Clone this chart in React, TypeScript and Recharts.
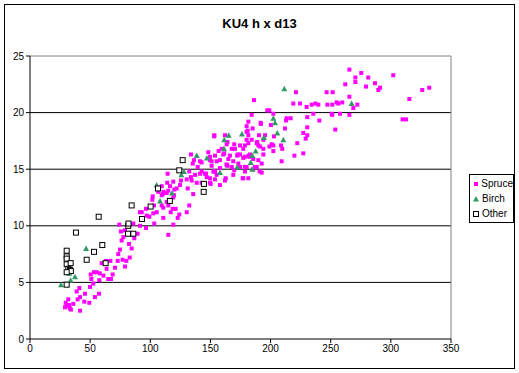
import { ScatterChart, Scatter, XAxis, YAxis, CartesianGrid, ReferenceLine, Legend } from 'recharts';

// d13 (x) vs height h (y)
const spruce: [number, number][] = [
  [29.1, 2.8], [29.7, 3.2], [31.8, 3.5], [33.2, 2.7], [36, 3.1], [30.5, 2.9], [32.5, 3.0], [34, 2.6],
  [39.6, 3.5], [38.8, 4.2], [41, 4.5], [41.6, 2.5], [41.6, 3.7], [45.7, 4.0], [45.1, 3.3], [49.3, 3.2],
  [49.9, 4.6], [52.6, 4.9], [54, 3.7], [57.4, 4.0], [50.5, 5.7], [53.2, 5.9], [55.4, 5.9], [57.6, 5.2],
  [51, 5.3], [59.6, 6.7], [63.2, 6.9], [63.7, 6.2], [66.8, 6.9], [68.7, 5.7], [67.3, 5.3], [70.7, 6.3],
  [72.9, 6.9], [77, 7.0], [79, 6.4], [80.1, 6.9], [74.8, 7.9], [73.4, 7.5], [76.2, 8.7], [82.9, 7.2],
  [82.3, 8.4], [84.5, 8.0], [75.6, 9.5], [77.6, 9.0], [79, 9.6], [85, 9.2], [85.9, 10.2], [74.2, 10.1],
  [86.7, 8.9], [89.5, 9.3], [61, 5.6], [65, 5.3], [58, 5.8],
  [91.4, 10.0], [91.4, 11.2], [97, 10.9], [99.2, 10.8], [96.4, 11.5], [102, 12.6], [103.1, 11.8], [103.3, 10.2],
  [105.3, 11.2], [110.3, 12.8], [109.5, 11.8], [110.8, 10.7], [113.6, 12.1], [115, 9.2], [117, 11.2], [118.6, 11.5],
  [119.1, 10.1], [121.1, 11.5], [122.8, 10.7], [124.1, 11.0], [132.4, 11.8], [130.3, 11.2], [135.7, 12.8], [119.7, 12.7],
  [106.6, 13.0], [96.4, 9.8], [92.9, 11.2], [102.5, 11.1], [101.7, 12.3], [109.5, 12.7], [110.8, 11.6], [115, 11.8],
  [114.4, 14.6], [109.5, 13.5], [115, 13.1], [116.4, 13.5], [119.1, 13.9], [121.9, 13.3], [113.6, 12.9], [125.5, 14.0],
  [130.3, 14.1], [131.1, 13.3], [134.4, 14.0], [133.8, 14.3], [137.2, 14.5], [135.3, 15.5], [136.3, 15.8], [139.4, 15.2],
  [141.3, 14.6], [142.7, 13.8], [146.9, 14.3], [149.6, 14.2], [150.2, 13.7], [155.2, 14.5], [157.9, 13.6], [141.3, 15.7],
  [142.7, 14.8], [146.3, 14.6], [153.2, 14.8], [151, 15.7], [155.2, 15.7], [157.9, 15.8], [163.5, 15.4], [162.7, 14.2],
  [157.9, 15.1], [132.4, 14.8], [148.2, 16.5], [153.2, 18.0], [156.8, 16.6], [159.4, 16.8], [161.5, 16.4], [164.9, 15.9],
  [164.1, 17.4], [133.8, 16.3], [124.7, 13.6], [114.1, 13.8], [110.8, 13.0], [120, 13.2], [119.1, 12.5], [153.8, 16.2],
  [149.6, 16.1], [162.1, 14.0], [153.8, 14.1], [149.6, 13.8], [138.6, 13.8], [145.5, 14.6], [152.4, 14.8], [142.7, 15.6],
  [160.7, 16.3], [166.2, 16.2], [170.4, 16.8], [174.6, 16.3], [178.7, 16.1], [167.7, 15.2], [164.1, 15.3], [169, 14.5],
  [174.6, 15.2], [178.7, 15.2], [177.3, 14.2], [181.5, 14.2], [169, 15.7], [173.2, 15.5], [180.1, 15.2], [188.5, 15.2],
  [190.9, 14.8], [185.6, 15.0], [176.8, 14.2],
  [186.2, 21.1], [184.3, 19.8], [181.5, 19.2], [180.1, 18.8], [185.1, 18.6], [180.1, 18.3], [181.5, 18.0], [180.1, 17.6],
  [169.8, 17.2], [174.6, 17.1], [178.7, 17.1], [188.9, 17.4], [190.4, 18.0], [189.8, 17.1], [153.2, 17.9], [163.5, 17.2],
  [167.7, 16.8], [172.3, 16.2], [182.3, 16.1], [181.5, 17.3], [177.3, 16.8], [181.8, 16.2], [185.6, 15.9], [189.8, 15.8],
  [194, 16.3], [192.6, 15.5], [192.6, 14.7], [187, 15.2], [177.3, 16.0], [172.6, 16.3], [162.1, 18.0], [163.5, 15.4],
  [169.8, 14.9], [178.7, 14.8], [149.6, 15.8], [151, 15.3], [153.8, 14.8], [182.9, 16.3], [184.3, 17.6], [181, 18.4],
  [194, 17.6], [188.5, 17.3], [191.2, 17.0], [199, 17.0], [194, 16.8],
  [221.1, 21.8], [246.6, 21.8], [251.6, 21.8], [254.9, 20.9], [256.3, 20.8], [247.2, 20.7], [239.7, 20.7], [234.2, 20.7],
  [237.2, 20.8], [230, 20.5], [224.5, 20.8], [218.9, 20.8], [197.3, 20.2], [199, 20.2], [202.3, 19.9], [192, 19.0],
  [200.3, 18.9], [213.4, 19.5], [216.7, 19.5], [212.8, 19.3], [230.5, 19.6], [240.5, 19.3], [235.5, 19.9], [250.8, 19.9],
  [253.8, 18.5], [230.5, 18.0], [227.2, 18.2], [229.2, 17.7], [212, 18.6], [222.2, 17.3], [209.7, 16.8], [219.8, 16.2],
  [209.2, 15.7], [202.3, 16.6], [202.3, 17.1], [208.7, 17.1], [195.4, 18.0], [202.8, 17.9], [191.7, 19.1], [227.2, 16.4],
  [200.9, 17.2], [230.5, 18.7],
  [265.5, 23.8], [270.5, 23.1], [275.4, 23.5], [281.2, 23.1], [270.5, 22.7], [262.1, 22.5], [279.3, 22.3], [286.8, 22.6],
  [291, 22.2], [289.6, 22.0], [302, 23.3], [326.1, 22.0], [331.9, 22.2], [315.4, 21.2], [309.8, 19.4], [312.6, 19.4],
  [265.5, 21.4], [259.6, 20.9], [251.3, 20.7], [272.1, 20.7], [265.5, 19.8], [268.8, 20.4], [257.7, 19.9], [251.3, 19.8],
];

const birch: [number, number][] = [
  [25.8, 4.8], [33.8, 5.2], [37.4, 5.5], [32.7, 5.8], [46.6, 8.0], [108.1, 12.2], [118, 12.9], [105.3, 13.6],
  [128, 14.8], [125.8, 14.5], [138.6, 16.2], [147.1, 16.0], [157.9, 14.7], [161.5, 17.6], [165.2, 18.0], [161.3, 16.8],
  [172.3, 15.2], [176.2, 18.1], [183.5, 15.6], [184.8, 16.2], [187.6, 16.6], [184.8, 15.0], [211.4, 22.1], [267.4, 20.8],
  [202.3, 19.5], [203.7, 19.1], [194.5, 17.8], [205.6, 18.2], [210.6, 17.6],
];

const other: [number, number][] = [
  [30.5, 7.8], [30.5, 7.3], [30.5, 7.1], [30.5, 6.6], [33.8, 6.7], [31.9, 6.2], [33.2, 6.1], [34, 6.0],
  [30.5, 5.9], [30.5, 4.8], [38.2, 9.4], [47.1, 7.0], [53.2, 7.7], [57.1, 10.8], [60.1, 8.3], [62.9, 6.7],
  [81.5, 9.3], [81.7, 10.0], [81.9, 10.2], [84.5, 11.8], [85.9, 9.3], [93.1, 10.6], [100.3, 11.7], [116.3, 12.2],
  [144.4, 13.0], [144.6, 13.7], [126.9, 15.8], [124.1, 14.9], [106.4, 13.3],
];

const xTicks = [0, 50, 100, 150, 200, 250, 300, 350];
const yTicks = [0, 5, 10, 15, 20, 25];
const gridValues = [5, 10, 15, 20];

const toPoints = (arr: [number, number][]) => arr.map(([d, h]) => ({ d, h }));

const SpruceMark = (props: any) => (
  <rect x={props.cx - 2} y={props.cy - 2} width={4} height={4} fill="#ff00ff" />
);

const BirchMark = (props: any) => (
  <polygon
    points={`${props.cx},${props.cy - 3} ${props.cx + 3},${props.cy + 2.5} ${props.cx - 3},${props.cy + 2.5}`}
    fill="#339966"
  />
);

const OtherMark = (props: any) => (
  <rect x={props.cx - 2.5} y={props.cy - 2.5} width={5} height={5} fill="#ffffff" stroke="#000000" strokeWidth={1} />
);

const LegendBox = () => (
  <div
    style={{
      border: '1px solid #000',
      background: '#fff',
      width: 40,
      padding: '1px 0 1px 3px',
      fontFamily: 'Liberation Sans, Arial, sans-serif',
      fontSize: 10,
      lineHeight: '15px',
    }}
  >
    {[
      { name: 'Spruce', mark: <rect x={1} y={1} width={4} height={4} fill="#ff00ff" /> },
      { name: 'Birch', mark: <polygon points="3,0 6,5.5 0,5.5" fill="#339966" /> },
      { name: 'Other', mark: <rect x={0.5} y={0.5} width={5} height={5} fill="#fff" stroke="#000" /> },
    ].map((e) => (
      <div key={e.name} style={{ display: 'flex', alignItems: 'center' }}>
        <svg width={6} height={6} style={{ marginRight: 3 }}>{e.mark}</svg>
        <span>{e.name}</span>
      </div>
    ))}
  </div>
);

export default function App() {
  const tickStyle = { fill: '#000', fontSize: 10, fontFamily: 'Liberation Sans, Arial, sans-serif' };

  return (
    <div style={{ position: 'absolute', left: 0, top: 0, width: 519, height: 373, background: '#fff' }}>
      {/* outer chart border */}
      <div
        style={{
          position: 'absolute',
          left: 4,
          top: 4,
          width: 509,
          height: 363,
          border: '1px solid #000',
          pointerEvents: 'none',
        }}
      />
      <div
        style={{
          position: 'absolute',
          left: 0,
          width: 519,
          top: 16,
          textAlign: 'center',
          fontFamily: 'Liberation Sans, Arial, sans-serif',
          fontWeight: 'bold',
          fontSize: 13,
        }}
      >
        KU4 h x d13
      </div>
      <ScatterChart width={519} height={373} margin={{ top: 56, right: 68, left: 0, bottom: 0 }}>
        <CartesianGrid horizontal vertical={false} horizontalValues={gridValues} stroke="#000" strokeWidth={1} />
        <ReferenceLine y={25} stroke="#808080" />
        <ReferenceLine x={350} stroke="#808080" />
        <XAxis
          type="number"
          dataKey="d"
          domain={[0, 350]}
          ticks={xTicks}
          height={34}
          stroke="#000"
          tickSize={4}
          tick={tickStyle}
          tickLine={{ stroke: '#000' }}
          allowDataOverflow
        />
        <YAxis
          type="number"
          dataKey="h"
          domain={[0, 25]}
          ticks={yTicks}
          width={30}
          stroke="#000"
          tickSize={4}
          tick={tickStyle}
          tickLine={{ stroke: '#000' }}
          allowDataOverflow
        />
        <Legend
          content={<LegendBox />}
          layout="horizontal"
          align="center"
          verticalAlign="middle"
          wrapperStyle={{ position: 'absolute', left: 469, top: 174, width: 44 }}
        />
        <Scatter name="Spruce" data={toPoints(spruce)} shape={SpruceMark} isAnimationActive={false} />
        <Scatter name="Birch" data={toPoints(birch)} shape={BirchMark} isAnimationActive={false} />
        <Scatter name="Other" data={toPoints(other)} shape={OtherMark} isAnimationActive={false} />
      </ScatterChart>
    </div>
  );
}
